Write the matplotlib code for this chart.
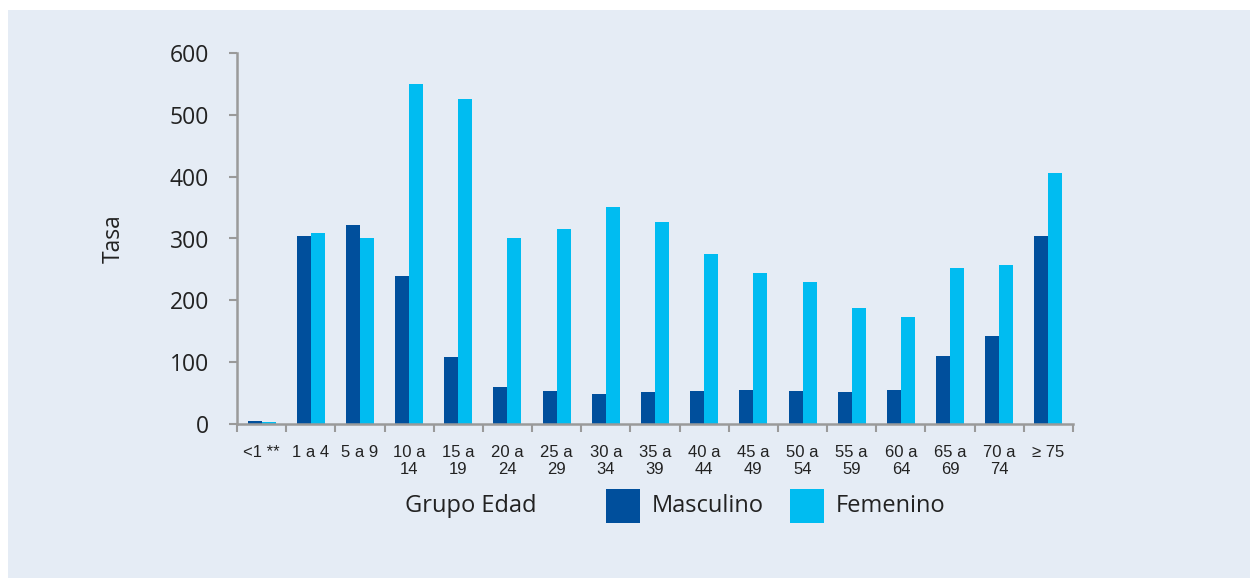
import matplotlib.pyplot as plt
from matplotlib.patches import Rectangle
import numpy as np

# Tasa por grupo de edad y sexo
grupos = ["<1 **", "1 a 4", "5 a 9", "10 a\n14", "15 a\n19", "20 a\n24", "25 a\n29",
          "30 a\n34", "35 a\n39", "40 a\n44", "45 a\n49", "50 a\n54", "55 a\n59",
          "60 a\n64", "65 a\n69", "70 a\n74", "\u2265 75"]
masculino = [5, 304, 322, 239, 109, 60, 54, 49, 51, 53, 55, 53, 52, 55, 110, 143, 304]
femenino = [4, 309, 301, 550, 526, 300, 316, 351, 327, 275, 245, 230, 188, 173, 252, 257, 406]

c_masc = "#004f9c"
c_fem = "#00bcf1"
bg = "#e5ecf5"
eje = "#9a9a9a"

fig = plt.figure(figsize=(12.5, 5.78), dpi=100)
fig.patch.set_facecolor("white")
fig.patches.append(Rectangle((8 / 1250, 0), 1, 1 - 10 / 578, transform=fig.transFigure,
                             facecolor=bg, edgecolor="none", zorder=-10))

ax = fig.add_axes([237 / 1250, 1 - 424 / 578, (1073 - 237) / 1250, (424 - 53) / 578])
ax.set_facecolor(bg)

x = np.arange(len(grupos))
w = 0.285
ax.bar(x - w / 2, masculino, w, color=c_masc, label="Masculino")
ax.bar(x + w / 2, femenino, w, color=c_fem, label="Femenino")

ax.set_xlim(-0.5, len(grupos) - 0.5)
ax.set_ylim(0, 600)
ax.set_yticks(range(0, 601, 100))
ax.tick_params(axis="y", labelsize=16.5, color=eje, length=6, width=1.5, pad=14, labelcolor="#222222")
for t in ax.get_yticklabels():
    t.set_fontfamily("Open Sans")

# etiquetas de categoria centradas, marcas entre categorias
ax.set_xticks(x)
ax.set_xticklabels(grupos, fontsize=12, fontfamily="Liberation Sans", linespacing=1.2,
                   va="top", color="#222222")
ax.tick_params(axis="x", length=0, pad=15)
ax.set_xticks(np.arange(-0.5, len(grupos) + 0.5, 1), minor=True)
ax.tick_params(axis="x", which="minor", length=6, width=1.5, color=eje)

for s in ["top", "right"]:
    ax.spines[s].set_visible(False)
for s in ["left", "bottom"]:
    ax.spines[s].set_color(eje)
    ax.spines[s].set_linewidth(1.8)

ax.set_ylabel("Tasa", fontsize=16.5, fontfamily="Open Sans", color="#222222", labelpad=32)

# leyenda manual debajo del eje
fig.text(405 / 1250, 1 - 506 / 578, "Grupo Edad", fontsize=17, fontfamily="Open Sans",
         color="#222222", va="center")
for x0, color, txt in [(606, c_masc, "Masculino"), (790, c_fem, "Femenino")]:
    fig.patches.append(Rectangle((x0 / 1250, 1 - 523 / 578), 34 / 1250, 34 / 578,
                                 transform=fig.transFigure, facecolor=color, edgecolor="none"))
    fig.text((x0 + 46) / 1250, 1 - 506 / 578, txt, fontsize=17, fontfamily="Open Sans",
             color="#222222", va="center")

fig.savefig("out.png", dpi=100, facecolor=fig.get_facecolor())
